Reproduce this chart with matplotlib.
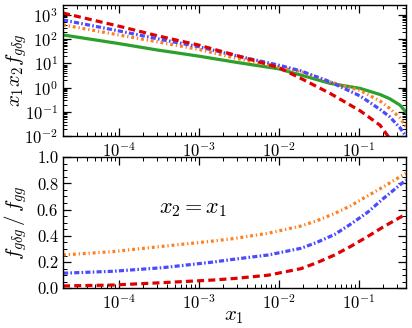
import numpy as np
import matplotlib
matplotlib.use("Agg")
import matplotlib.pyplot as plt
from matplotlib.ticker import LogLocator, MultipleLocator, NullFormatter

plt.rcParams['font.family'] = 'serif'
plt.rcParams['font.serif'] = ['cmr10', 'DejaVu Serif']
plt.rcParams['mathtext.fontset'] = 'cm'
plt.rcParams['axes.formatter.use_mathtext'] = True

# top panel: x1 x2 f_{g delta g}
x_top = [2e-5, 1e-4, 3e-4, 1e-3, 3e-3, 1e-2, 0.019, 0.044, 0.105, 0.186, 0.245, 0.33, 0.39]
red_top = [1200, 345, 140, 57, 21, 6.8, 2.4, 0.58, 0.11, 0.028, 0.008, 0.002, 0.0005]
blue_top = [620, 220, 105, 49, 20.5, 8.5, 4.9, 1.74, 0.45, 0.126, 0.063, 0.022, 0.01]
orange_top = [390, 150, 78, 38, 16, 7.0, 4.6, 1.74, 0.76, 0.28, 0.14, 0.056, 0.025]
green_top = [150, 66, 36, 20, 11, 6.0, 3.3, 1.5, 0.93, 0.52, 0.35, 0.19, 0.1]

# bottom panel: ratio f_{g delta g} / f_{gg}
x_bot = [2e-5, 8.5e-5, 3.5e-4, 1.5e-3, 2.8e-3, 7.4e-3, 1.9e-2, 3e-2, 5e-2,
         8e-2, 0.13, 0.2, 0.34, 0.39]
orange_bot = [0.254, 0.28, 0.32, 0.36, 0.38, 0.42, 0.475, 0.515, 0.57,
              0.63, 0.705, 0.77, 0.855, 0.875]
blue_bot = [0.115, 0.13, 0.157, 0.20, 0.222, 0.254, 0.305, 0.35, 0.41,
            0.49, 0.58, 0.68, 0.795, 0.825]
red_bot = [0.018, 0.025, 0.043, 0.063, 0.075, 0.10, 0.15, 0.195, 0.254,
           0.32, 0.395, 0.465, 0.545, 0.565]

c_red = '#e00000'
c_blue = '#4a4aff'
c_orange = '#ff7f1e'
c_green = '#2ca02c'
lw = 2.3
red_dash = (0, (2.2, 1.3))
blue_dash = (0, (1.6, 0.7, 0.5, 0.7))
orange_dash = (0, (0.9, 0.9, 0.4, 0.9))

fig = plt.figure(figsize=(4.12, 3.28), dpi=100)
ax1 = fig.add_axes([0.153, 0.585, 0.832, 0.40])
ax2 = fig.add_axes([0.153, 0.121, 0.832, 0.40])

ax1.plot(x_top, green_top, color=c_green, lw=lw, ls='-')
ax1.plot(x_top, orange_top, color=c_orange, lw=lw, ls=orange_dash)
ax1.plot(x_top, blue_top, color=c_blue, lw=lw, ls=blue_dash)
ax1.plot(x_top, red_top, color=c_red, lw=lw, ls=red_dash)
ax1.set_yscale('log')
ax1.set_ylim(1e-2, 2.6e3)
ax1.set_ylabel(r'$x_1 x_2 f_{g\delta g}$', fontsize=15)

ax2.plot(x_bot, orange_bot, color=c_orange, lw=lw, ls=orange_dash)
ax2.plot(x_bot, blue_bot, color=c_blue, lw=lw, ls=blue_dash)
ax2.plot(x_bot, red_bot, color=c_red, lw=lw, ls=red_dash)
ax2.set_ylim(0, 1.0)
ax2.yaxis.set_major_locator(MultipleLocator(0.2))
ax2.yaxis.set_minor_locator(MultipleLocator(0.05))
ax2.yaxis.set_major_formatter(plt.FuncFormatter(lambda v, p: f'{v:.1f}'))
ax2.set_ylabel(r'$f_{g\delta g}\,/\,f_{gg}$', fontsize=15)
ax2.set_xlabel(r'$x_1$', fontsize=15, labelpad=-3)
ax2.text(0.38, 0.6, r'$x_2 = x_1$', transform=ax2.transAxes, fontsize=16,
         ha='center', va='center')

for ax in (ax1, ax2):
    ax.set_xscale('log')
    ax.set_xlim(2e-5, 0.39)
    ax.xaxis.set_major_locator(LogLocator(base=10, numticks=10))
    ax.xaxis.set_minor_locator(LogLocator(base=10, subs=np.arange(2, 10), numticks=20))
    ax.xaxis.set_minor_formatter(NullFormatter())
    ax.tick_params(which='both', direction='in', top=True, right=True, labelsize=12)
    ax.tick_params(which='major', length=6, width=0.9)
    ax.tick_params(which='minor', length=3, width=0.7)
    for s in ax.spines.values():
        s.set_linewidth(1.0)

ax1.yaxis.set_major_locator(LogLocator(base=10, numticks=10))
ax1.yaxis.set_minor_locator(LogLocator(base=10, subs=np.arange(2, 10), numticks=20))
ax1.yaxis.set_minor_formatter(NullFormatter())
ax1.yaxis.set_label_coords(-0.1, 0.5)
ax2.yaxis.set_label_coords(-0.1, 0.5)

fig.savefig('out.png', dpi=100)
